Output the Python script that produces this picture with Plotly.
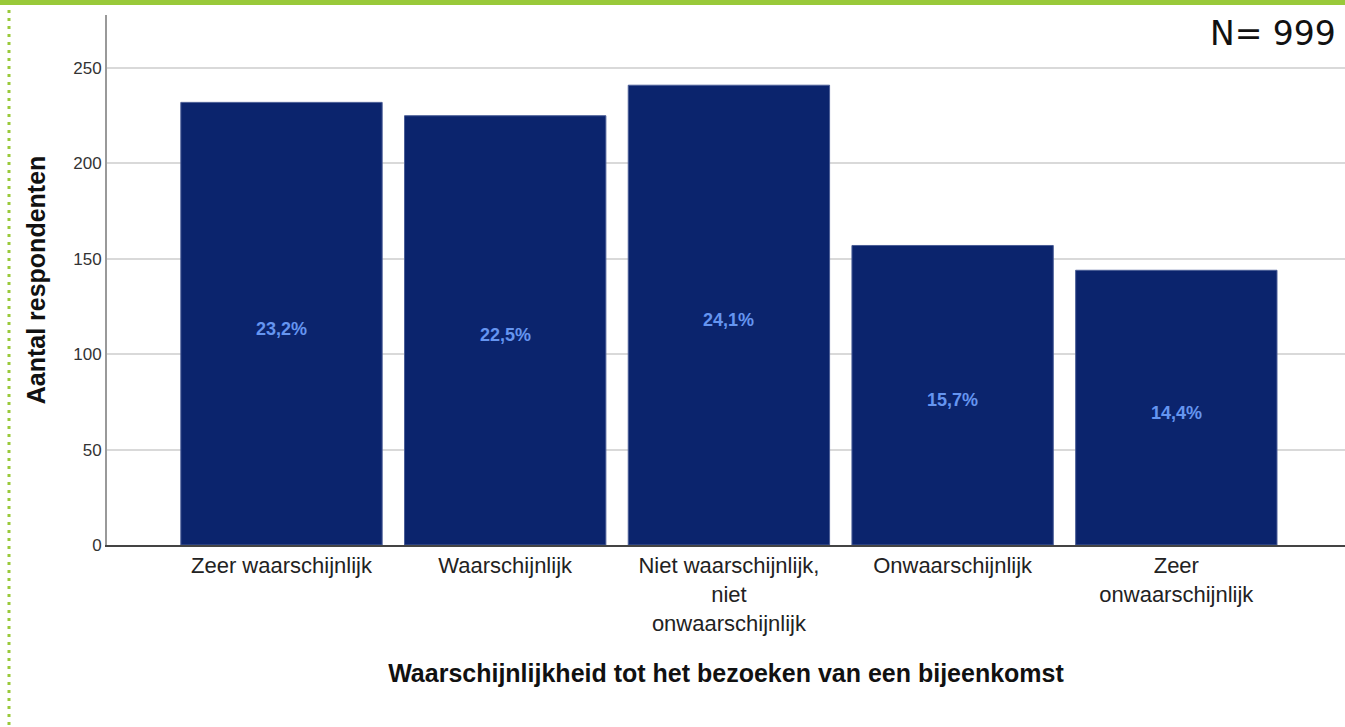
import plotly.graph_objects as go

categories = ["Zeer waarschijnlijk", "Waarschijnlijk",
              "Niet waarschijnlijk,<br>niet<br>onwaarschijnlijk",
              "Onwaarschijnlijk", "Zeer<br>onwaarschijnlijk"]
counts = [232, 225, 241, 157, 144]
percent_labels = ["23,2%", "22,5%", "24,1%", "15,7%", "14,4%"]
y_ticks = [0, 50, 100, 150, 200, 250]

W, H = 1345, 727
L, T, B = 107, 15, 182
plot_w = W - L
plot_h = H - T - B
GREEN = "#99c93a"

fig = go.Figure()
fig.add_trace(go.Bar(
    x=list(range(len(categories))), y=counts,
    marker=dict(color="#0b246d", line=dict(color="#4a5d96", width=1)),
    width=0.9, hoverinfo="y",
))

# percentage labels, a bit below the bar middle like the original
for i, (c, p) in enumerate(zip(counts, percent_labels)):
    fig.add_annotation(x=i, y=c / 2, text=p, showarrow=False, yshift=-5,
                       font=dict(family="Liberation Sans, Arial", size=18,
                                 color="#6595f0", weight="bold"))

fig.update_layout(
    width=W, height=H,
    margin=dict(l=L, r=0, t=T, b=B),
    paper_bgcolor="white", plot_bgcolor="white",
    showlegend=False,
    font=dict(family="Liberation Sans, Arial", color="#222"),
    xaxis=dict(
        range=[-0.78, 4.754],
        tickmode="array", tickvals=list(range(len(categories))), ticktext=categories,
        tickfont=dict(size=22, color="#222"), ticks="",
        showgrid=False, zeroline=False,
        showline=True, linecolor="#444", linewidth=2,
        title=dict(text="<b>Waarschijnlijkheid tot het bezoeken van een bijeenkomst</b>",
                   font=dict(size=25, color="#111"), standoff=30),
    ),
    yaxis=dict(
        range=[0, 277.8],
        tickmode="array", tickvals=y_ticks,
        tickfont=dict(size=17, color="#333"), ticks="",
        showgrid=True, gridcolor="#d9d9d9", gridwidth=2,
        zeroline=False,
        showline=True, linecolor="#999", linewidth=2,
        title=dict(text="<b>Aantal respondenten</b>", font=dict(size=25, color="#111"), standoff=20),
    ),
)

# green frame decoration at top and left
fig.add_shape(type="rect", xref="paper", yref="paper",
              x0=-L / plot_w, x1=1.0, y0=1 + (T - 5) / plot_h, y1=1 + T / plot_h + 0.01,
              fillcolor=GREEN, line=dict(width=0), layer="above")
fig.add_shape(type="line", xref="paper", yref="paper",
              x0=(9 - L) / plot_w, x1=(9 - L) / plot_w,
              y0=-(B - 2) / plot_h, y1=1 + (T - 6) / plot_h,
              line=dict(color=GREEN, width=3, dash="3px,5px"))

# sample size, kept fully inside the page
fig.add_annotation(text="N= 999", xref="paper", yref="paper",
                   x=(1338 - L) / plot_w, y=(545 - 33) / plot_h,
                   xanchor="right", yanchor="middle", showarrow=False,
                   font=dict(family="DejaVu Sans", size=33, color="#111"))

fig.write_html("out.html", config={"displayModeBar": False},
               post_script="document.body.style.margin='0px';")
